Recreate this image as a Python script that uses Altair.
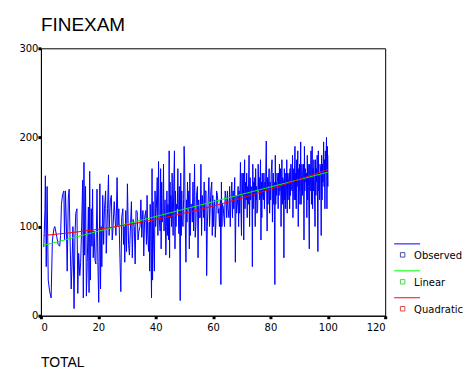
import altair as alt
import pandas as pd

obs_groups = [
    [77, 118], [157, 55, 145], [40, 28], [20, 85], [98, 100, 95],
    [88, 80], [78, 90, 125], [136, 138, 140, 85], [140, 105, 50], [132, 142, 88],
    [30, 58, 100], [8, 88, 115], [120, 25, 70], [45, 60, 95], [152, 20, 172, 68],
    [145, 22, 60], [122, 26, 162, 40], [120, 78, 142, 65], [95, 62, 58], [142, 60, 15],
    [148, 30, 100, 55], [135, 80, 120], [140, 70, 95, 120], [158, 90, 115, 130], [135, 85, 100],
    [128, 110, 90], [155, 100, 120], [64, 27, 110], [120, 80, 100, 60], [118, 72, 148],
    [80, 68, 95], [128, 65, 108], [100, 58, 118], [117, 85, 95], [100, 130, 88],
    [118, 67, 110], [118, 80, 135, 90], [72, 105, 50, 125, 95], [20, 165, 40, 128, 85], [50, 140, 100, 120],
    [155, 90, 173, 110], [95, 165, 75, 150, 105], [115, 170, 95, 115, 130], [68, 100, 140, 90, 125], [85, 185, 65, 150, 110, 135],
    [100, 160, 112, 90, 140], [185, 75, 140, 100, 125], [120, 165, 115, 92, 145], [17, 160, 90, 140, 105], [100, 130, 190, 170, 115],
    [60, 130, 105, 150, 120], [140, 75, 160, 90, 125], [125, 105, 150, 95], [170, 88, 100, 135], [145, 65, 130, 110],
    [110, 170, 90, 135], [120, 110, 150, 95, 140], [140, 45, 100, 125], [155, 100, 120, 140], [150, 90, 135, 100, 120],
    [130, 88, 105, 140], [135, 115, 120, 100], [130, 35, 150, 100, 125], [122, 110, 100, 140], [130, 110, 140, 120],
    [110, 145, 100, 130], [150, 110, 140, 120], [155, 60, 135, 115], [130, 145, 100, 140, 115], [172, 120, 90, 160, 135],
    [160, 85, 140, 175, 120, 150], [130, 160, 110, 145, 125], [180, 100, 155, 130, 145], [140, 55, 170, 120, 150, 135], [155, 100, 165, 130, 145, 115],
    [120, 170, 140, 155, 130], [175, 85, 150, 110, 160, 135], [130, 160, 120, 150, 140], [196, 140, 95, 155, 125, 145], [165, 115, 150, 130, 160],
    [175, 105, 145, 160, 125, 150], [35, 180, 125, 150, 135, 160], [150, 120, 160, 135, 170, 140], [165, 100, 140, 175, 125, 155], [150, 65, 165, 130, 160, 120],
    [140, 175, 115, 160, 130, 150], [160, 120, 165, 135, 170, 145], [140, 180, 110, 150, 165, 130], [190, 130, 160, 120, 175, 145], [185, 100, 165, 140, 170, 125],
    [195, 125, 150, 170, 135, 160], [170, 85, 190, 140, 165, 150], [160, 110, 180, 130, 170, 145], [75, 170, 140, 155, 185, 125], [190, 120, 165, 140, 175, 150],
    [100, 175, 135, 165, 150, 180], [72, 185, 140, 160, 130, 170], [160, 90, 180, 130, 170, 150], [195, 145, 175, 120, 185, 160], [200, 120, 190, 145, 165, 180],
]

lin_x = [1, 100]
lin_y = [79, 161]

quad_x = [1, 10, 20, 30, 40, 50, 60, 70, 80, 90, 100]
quad_y = [90, 93, 97, 102, 108, 115, 123, 132, 142, 153, 164]

x_ticks = [0, 20, 40, 60, 80, 100, 120]
y_ticks = [0, 100, 200, 300]

legend_names = ["Observed", "Linear", "Quadratic"]
legend_colors = ["#0000ff", "#00ff00", "#ff0000"]
legend_square_colors = ["#000080", "#00cc00", "#cc0000"]

rows = []
k = 0
for i, grp in enumerate(obs_groups):
    n = len(grp)
    for j, v in enumerate(grp):
        # values of one bin spread across that bin's width
        xv = (i + 1) + (j / n - 0.5) * 0.9 if i > 0 else 1 + j * 0.4
        xv = min(xv, 100.0)
        rows.append({"x": xv, "y": v, "i": k})
        k += 1
obs_df = pd.DataFrame(rows)
lin_df = pd.DataFrame({"x": lin_x, "y": lin_y})
quad_df = pd.DataFrame({"x": quad_x, "y": quad_y})

W, H = 345, 268
FONT = "DejaVu Sans"

xs = alt.Scale(domain=[0, 120], nice=False, zero=False)
ys = alt.Scale(domain=[0, 300], nice=False, zero=False)
x_axis = alt.Axis(values=x_ticks, title=None, grid=False, tickSize=3, tickWidth=3,
                  tickColor="black", domainColor="black", labelColor="black",
                  labelFont=FONT, labelFontSize=10, labelPadding=4, labelAngle=0)
y_axis = alt.Axis(values=y_ticks, title=None, grid=False, tickSize=3, tickWidth=3,
                  tickColor="black", domainColor="black", labelColor="black",
                  labelFont=FONT, labelFontSize=10, labelPadding=0)

obs = alt.Chart(obs_df).mark_line(color="#0000ff", strokeWidth=1).encode(
    x=alt.X("x:Q", scale=xs, axis=x_axis),
    y=alt.Y("y:Q", scale=ys, axis=y_axis),
    order="i:Q",
)
lin = alt.Chart(lin_df).mark_line(color="#00ff00", strokeWidth=1).encode(
    x=alt.X("x:Q", scale=xs), y=alt.Y("y:Q", scale=ys))
quad = alt.Chart(quad_df).mark_line(color="#ff0000", strokeWidth=1, interpolate="monotone").encode(
    x=alt.X("x:Q", scale=xs), y=alt.Y("y:Q", scale=ys))

one = pd.DataFrame({"a": [0]})
layers = [obs, lin, quad]

for j, (name, col, scol) in enumerate(zip(legend_names, legend_colors, legend_square_colors)):
    y0 = 196 + 27 * j
    layers.append(alt.Chart(one).mark_rule(color=col, strokeWidth=1).encode(
        x=alt.value(354), x2=alt.value(380), y=alt.value(y0)))
    layers.append(alt.Chart(one).mark_point(shape="square", size=20, filled=False,
                                            color=scol, strokeWidth=1).encode(
        x=alt.value(362.5), y=alt.value(y0 + 11)))
    layers.append(alt.Chart(one).mark_text(align="left", baseline="middle", font=FONT,
                                           fontSize=10, color="black").encode(
        x=alt.value(374), y=alt.value(y0 + 12.5), text=alt.value(name)))

layers.append(alt.Chart(one).mark_text(align="left", baseline="alphabetic",
                                       font="Liberation Sans", fontSize=19, color="black").encode(
    x=alt.value(0), y=alt.value(-17), text=alt.value("FINEXAM")))
layers.append(alt.Chart(one).mark_text(align="left", baseline="alphabetic",
                                       font="Liberation Sans", fontSize=14, color="black").encode(
    x=alt.value(0), y=alt.value(319), text=alt.value("TOTAL")))

chart = alt.layer(*layers).properties(
    width=W, height=H,
    autosize=alt.AutoSizeParams(type="none"),
    padding={"left": 33, "top": 40, "right": 80, "bottom": 55},
    background="white",
).configure_view(stroke="black", strokeWidth=1)

chart.save("out.html", embed_options={"renderer": "svg", "actions": False})
